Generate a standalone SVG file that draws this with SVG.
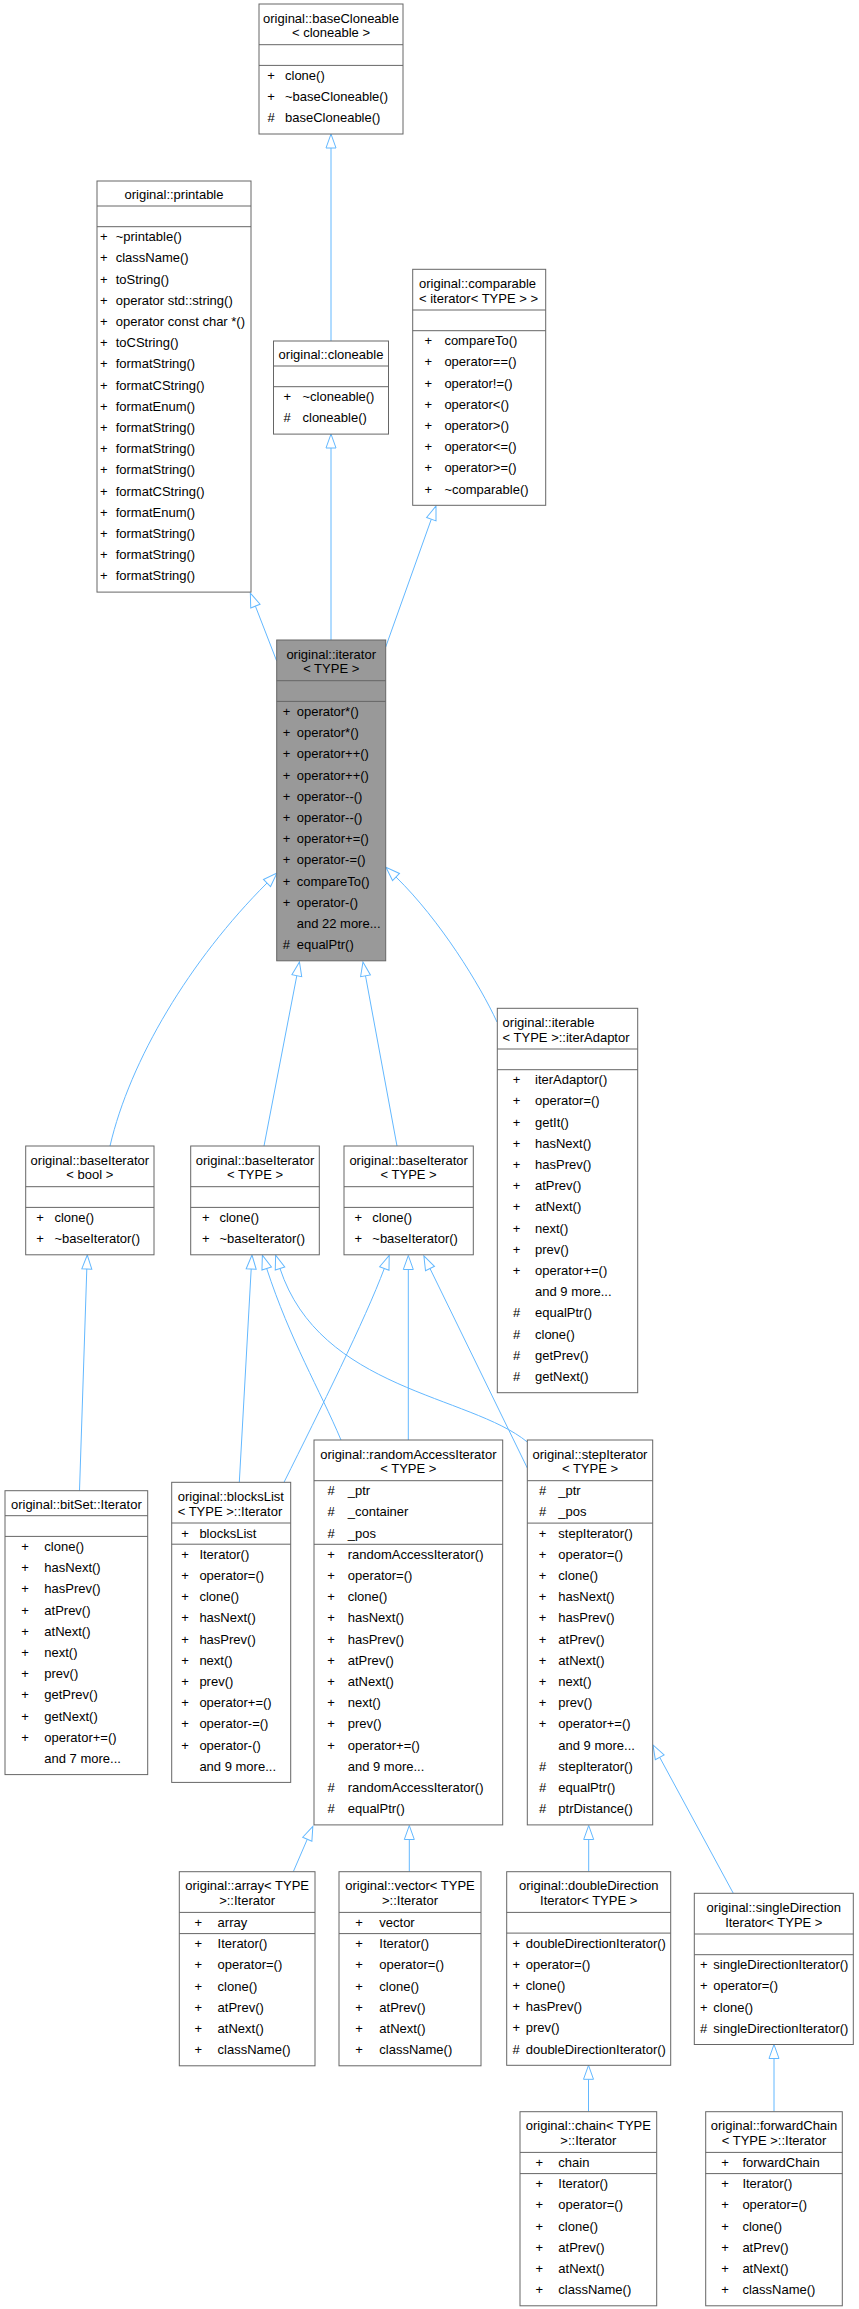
<svg xmlns="http://www.w3.org/2000/svg" width="859" height="2309" viewBox="0 0 859 2309">
<style>
.b{fill:#fff;stroke:#666;stroke-width:1}
.h{fill:#999;stroke:#666;stroke-width:1}
.s{stroke:#666;stroke-width:1}
text{font-family:"Liberation Sans",Arial,sans-serif;font-size:13px;fill:#000}
.c{text-anchor:middle}
.e{fill:none;stroke:#63b8ff;stroke-width:1;marker-end:url(#tri)}
</style>
<defs>
<marker id="tri" markerWidth="16" markerHeight="12" refX="0" refY="0" orient="auto" markerUnits="userSpaceOnUse" overflow="visible"><path d="M0,-5 L14,0 L0,5 Z" fill="#fff" stroke="#63b8ff" stroke-width="1"/></marker>
</defs>
<rect width="859" height="2309" fill="#fff"/>
<g id="edges">
<path class="e" d="M331,341 L331,148"/>
<path class="e" d="M331,640 L331,448"/>
<path class="e" d="M276.7,661 L255.4,606.1"/>
<path class="e" d="M385.7,647 L431.3,519.2"/>
<path class="e" d="M110,1146 C130,1060 190,960 267,883"/>
<path class="e" d="M264,1146 L296.8,975.7"/>
<path class="e" d="M397,1146 L365.5,975.8"/>
<path class="e" d="M497,1022 C480,985 440,920 396,877"/>
<path class="e" d="M79.5,1490.7 L86.8,1269"/>
<path class="e" d="M239.3,1482.3 L251.2,1269"/>
<path class="e" d="M341,1440 C320,1390 290,1340 266.7,1268.5"/>
<path class="e" d="M527.3,1442 C470,1395 320,1390 280,1268.5"/>
<path class="e" d="M284,1482.3 C320,1410 365,1320 384.3,1268.5"/>
<path class="e" d="M408.3,1440 L408.3,1269.5"/>
<path class="e" d="M527.3,1468 L430,1268.5"/>
<path class="e" d="M293.3,1871.7 L307.3,1839.2"/>
<path class="e" d="M409.3,1871.7 L409.3,1839.5"/>
<path class="e" d="M588.7,1871.7 L588.7,1839.5"/>
<path class="e" d="M733.3,1893.3 L659.7,1757.3"/>
<path class="e" d="M588.5,2111.7 L588.5,2079.3"/>
<path class="e" d="M774,2111.7 L774,2058.5"/>
</g>
<g id="baseCloneable">
<rect class="b" x="259" y="4" width="144" height="130"/>
<line class="s" x1="259" y1="44.7" x2="403" y2="44.7"/><line class="s" x1="259" y1="65.4" x2="403" y2="65.4"/>
<text class="c" x="331" y="22.5">original::baseCloneable</text>
<text class="c" x="331" y="37.3">&lt; cloneable &gt;</text>
<text class="c" x="271" y="79.9">+</text><text x="285" y="79.9">clone()</text>
<text class="c" x="271" y="101.1">+</text><text x="285" y="101.1">~baseCloneable()</text>
<text class="c" x="271" y="122.3">#</text><text x="285" y="122.3">baseCloneable()</text>
</g>
<g id="printable">
<rect class="b" x="97" y="181" width="154" height="411.1"/>
<line class="s" x1="97" y1="206" x2="251" y2="206"/><line class="s" x1="97" y1="226.7" x2="251" y2="226.7"/>
<text class="c" x="174" y="199">original::printable</text>
<text x="100" y="241.2">+</text><text x="115.7" y="241.2">~printable()</text>
<text x="100" y="262.4">+</text><text x="115.7" y="262.4">className()</text>
<text x="100" y="283.6">+</text><text x="115.7" y="283.6">toString()</text>
<text x="100" y="304.8">+</text><text x="115.7" y="304.8">operator std::string()</text>
<text x="100" y="326">+</text><text x="115.7" y="326">operator const char *()</text>
<text x="100" y="347.2">+</text><text x="115.7" y="347.2">toCString()</text>
<text x="100" y="368.4">+</text><text x="115.7" y="368.4">formatString()</text>
<text x="100" y="389.6">+</text><text x="115.7" y="389.6">formatCString()</text>
<text x="100" y="410.8">+</text><text x="115.7" y="410.8">formatEnum()</text>
<text x="100" y="432">+</text><text x="115.7" y="432">formatString()</text>
<text x="100" y="453.2">+</text><text x="115.7" y="453.2">formatString()</text>
<text x="100" y="474.4">+</text><text x="115.7" y="474.4">formatString()</text>
<text x="100" y="495.6">+</text><text x="115.7" y="495.6">formatCString()</text>
<text x="100" y="516.8">+</text><text x="115.7" y="516.8">formatEnum()</text>
<text x="100" y="538">+</text><text x="115.7" y="538">formatString()</text>
<text x="100" y="559.2">+</text><text x="115.7" y="559.2">formatString()</text>
<text x="100" y="580.4">+</text><text x="115.7" y="580.4">formatString()</text>
</g>
<g id="cloneable">
<rect class="b" x="273.5" y="341" width="115" height="93.1"/>
<line class="s" x1="273.5" y1="366" x2="388.5" y2="366"/><line class="s" x1="273.5" y1="386.7" x2="388.5" y2="386.7"/>
<text class="c" x="331" y="359">original::cloneable</text>
<text class="c" x="287.2" y="401.2">+</text><text x="302.5" y="401.2">~cloneable()</text>
<text class="c" x="287.2" y="422.4">#</text><text x="302.5" y="422.4">cloneable()</text>
</g>
<g id="comparable">
<rect class="b" x="412.7" y="269.3" width="133" height="236"/>
<line class="s" x1="412.7" y1="310" x2="545.7" y2="310"/><line class="s" x1="412.7" y1="330.7" x2="545.7" y2="330.7"/>
<text x="419" y="287.8">original::comparable</text>
<text x="419" y="302.6">&lt; iterator&lt; TYPE &gt; &gt;</text>
<text class="c" x="428.4" y="345.2">+</text><text x="444.4" y="345.2">compareTo()</text>
<text class="c" x="428.4" y="366.4">+</text><text x="444.4" y="366.4">operator==()</text>
<text class="c" x="428.4" y="387.6">+</text><text x="444.4" y="387.6">operator!=()</text>
<text class="c" x="428.4" y="408.8">+</text><text x="444.4" y="408.8">operator&lt;()</text>
<text class="c" x="428.4" y="430">+</text><text x="444.4" y="430">operator&gt;()</text>
<text class="c" x="428.4" y="451.2">+</text><text x="444.4" y="451.2">operator&lt;=()</text>
<text class="c" x="428.4" y="472.4">+</text><text x="444.4" y="472.4">operator&gt;=()</text>
<text class="c" x="428.4" y="493.6">+</text><text x="444.4" y="493.6">~comparable()</text>
</g>
<g id="iterator">
<rect class="h" x="276.7" y="640" width="109" height="320.8"/>
<line class="s" x1="276.7" y1="680.7" x2="385.7" y2="680.7"/><line class="s" x1="276.7" y1="701.4" x2="385.7" y2="701.4"/>
<text class="c" x="331.2" y="658.5">original::iterator</text>
<text class="c" x="331.2" y="673.3">&lt; TYPE &gt;</text>
<text x="282.7" y="715.9">+</text><text x="296.7" y="715.9">operator*()</text>
<text x="282.7" y="737.1">+</text><text x="296.7" y="737.1">operator*()</text>
<text x="282.7" y="758.3">+</text><text x="296.7" y="758.3">operator++()</text>
<text x="282.7" y="779.5">+</text><text x="296.7" y="779.5">operator++()</text>
<text x="282.7" y="800.7">+</text><text x="296.7" y="800.7">operator--()</text>
<text x="282.7" y="821.9">+</text><text x="296.7" y="821.9">operator--()</text>
<text x="282.7" y="843.1">+</text><text x="296.7" y="843.1">operator+=()</text>
<text x="282.7" y="864.3">+</text><text x="296.7" y="864.3">operator-=()</text>
<text x="282.7" y="885.5">+</text><text x="296.7" y="885.5">compareTo()</text>
<text x="282.7" y="906.7">+</text><text x="296.7" y="906.7">operator-()</text>
<text x="296.7" y="927.9">and 22 more...</text>
<text x="282.7" y="949.1">#</text><text x="296.7" y="949.1">equalPtr()</text>
</g>
<g id="iterAdaptor">
<rect class="b" x="497.3" y="1008.3" width="140.4" height="384.4"/>
<line class="s" x1="497.3" y1="1049" x2="637.7" y2="1049"/><line class="s" x1="497.3" y1="1069.7" x2="637.7" y2="1069.7"/>
<text x="502.6" y="1026.8">original::iterable</text>
<text x="502.6" y="1041.6">&lt; TYPE &gt;::iterAdaptor</text>
<text class="c" x="516.6" y="1084.2">+</text><text x="535" y="1084.2">iterAdaptor()</text>
<text class="c" x="516.6" y="1105.4">+</text><text x="535" y="1105.4">operator=()</text>
<text class="c" x="516.6" y="1126.6">+</text><text x="535" y="1126.6">getIt()</text>
<text class="c" x="516.6" y="1147.8">+</text><text x="535" y="1147.8">hasNext()</text>
<text class="c" x="516.6" y="1169">+</text><text x="535" y="1169">hasPrev()</text>
<text class="c" x="516.6" y="1190.2">+</text><text x="535" y="1190.2">atPrev()</text>
<text class="c" x="516.6" y="1211.4">+</text><text x="535" y="1211.4">atNext()</text>
<text class="c" x="516.6" y="1232.6">+</text><text x="535" y="1232.6">next()</text>
<text class="c" x="516.6" y="1253.8">+</text><text x="535" y="1253.8">prev()</text>
<text class="c" x="516.6" y="1275">+</text><text x="535" y="1275">operator+=()</text>
<text x="535" y="1296.2">and 9 more...</text>
<text class="c" x="516.6" y="1317.4">#</text><text x="535" y="1317.4">equalPtr()</text>
<text class="c" x="516.6" y="1338.6">#</text><text x="535" y="1338.6">clone()</text>
<text class="c" x="516.6" y="1359.8">#</text><text x="535" y="1359.8">getPrev()</text>
<text class="c" x="516.6" y="1381">#</text><text x="535" y="1381">getNext()</text>
</g>
<g id="baseIteratorBool">
<rect class="b" x="25.7" y="1146" width="128.3" height="108.8"/>
<line class="s" x1="25.7" y1="1186.7" x2="154" y2="1186.7"/><line class="s" x1="25.7" y1="1207.4" x2="154" y2="1207.4"/>
<text class="c" x="89.85" y="1164.5">original::baseIterator</text>
<text class="c" x="89.85" y="1179.3">&lt; bool &gt;</text>
<text class="c" x="40" y="1221.9">+</text><text x="54.4" y="1221.9">clone()</text>
<text class="c" x="40" y="1243.1">+</text><text x="54.4" y="1243.1">~baseIterator()</text>
</g>
<g id="baseIteratorType1">
<rect class="b" x="190.7" y="1146" width="128.6" height="108.8"/>
<line class="s" x1="190.7" y1="1186.7" x2="319.3" y2="1186.7"/><line class="s" x1="190.7" y1="1207.4" x2="319.3" y2="1207.4"/>
<text class="c" x="255" y="1164.5">original::baseIterator</text>
<text class="c" x="255" y="1179.3">&lt; TYPE &gt;</text>
<text class="c" x="205.7" y="1221.9">+</text><text x="219.4" y="1221.9">clone()</text>
<text class="c" x="205.7" y="1243.1">+</text><text x="219.4" y="1243.1">~baseIterator()</text>
</g>
<g id="baseIteratorType2">
<rect class="b" x="344" y="1146" width="129.3" height="108.8"/>
<line class="s" x1="344" y1="1186.7" x2="473.3" y2="1186.7"/><line class="s" x1="344" y1="1207.4" x2="473.3" y2="1207.4"/>
<text class="c" x="408.65" y="1164.5">original::baseIterator</text>
<text class="c" x="408.65" y="1179.3">&lt; TYPE &gt;</text>
<text class="c" x="358.3" y="1221.9">+</text><text x="372.3" y="1221.9">clone()</text>
<text class="c" x="358.3" y="1243.1">+</text><text x="372.3" y="1243.1">~baseIterator()</text>
</g>
<g id="bitSetIterator">
<rect class="b" x="5" y="1490.7" width="142.7" height="283.9"/>
<line class="s" x1="5" y1="1515.7" x2="147.7" y2="1515.7"/><line class="s" x1="5" y1="1536.4" x2="147.7" y2="1536.4"/>
<text class="c" x="76.35" y="1508.7">original::bitSet::Iterator</text>
<text class="c" x="25" y="1550.9">+</text><text x="44.3" y="1550.9">clone()</text>
<text class="c" x="25" y="1572.1">+</text><text x="44.3" y="1572.1">hasNext()</text>
<text class="c" x="25" y="1593.3">+</text><text x="44.3" y="1593.3">hasPrev()</text>
<text class="c" x="25" y="1614.5">+</text><text x="44.3" y="1614.5">atPrev()</text>
<text class="c" x="25" y="1635.7">+</text><text x="44.3" y="1635.7">atNext()</text>
<text class="c" x="25" y="1656.9">+</text><text x="44.3" y="1656.9">next()</text>
<text class="c" x="25" y="1678.1">+</text><text x="44.3" y="1678.1">prev()</text>
<text class="c" x="25" y="1699.3">+</text><text x="44.3" y="1699.3">getPrev()</text>
<text class="c" x="25" y="1720.5">+</text><text x="44.3" y="1720.5">getNext()</text>
<text class="c" x="25" y="1741.7">+</text><text x="44.3" y="1741.7">operator+=()</text>
<text x="44.3" y="1762.9">and 7 more...</text>
</g>
<g id="blocksListIterator">
<rect class="b" x="171.7" y="1482.3" width="119" height="300.1"/>
<line class="s" x1="171.7" y1="1523" x2="290.7" y2="1523"/><line class="s" x1="171.7" y1="1544.2" x2="290.7" y2="1544.2"/>
<text x="177.7" y="1500.8">original::blocksList</text>
<text x="177.7" y="1515.6">&lt; TYPE &gt;::Iterator</text>
<text class="c" x="185" y="1537.5">+</text><text x="199.4" y="1537.5">blocksList</text>
<text class="c" x="185" y="1558.7">+</text><text x="199.4" y="1558.7">Iterator()</text>
<text class="c" x="185" y="1579.9">+</text><text x="199.4" y="1579.9">operator=()</text>
<text class="c" x="185" y="1601.1">+</text><text x="199.4" y="1601.1">clone()</text>
<text class="c" x="185" y="1622.3">+</text><text x="199.4" y="1622.3">hasNext()</text>
<text class="c" x="185" y="1643.5">+</text><text x="199.4" y="1643.5">hasPrev()</text>
<text class="c" x="185" y="1664.7">+</text><text x="199.4" y="1664.7">next()</text>
<text class="c" x="185" y="1685.9">+</text><text x="199.4" y="1685.9">prev()</text>
<text class="c" x="185" y="1707.1">+</text><text x="199.4" y="1707.1">operator+=()</text>
<text class="c" x="185" y="1728.3">+</text><text x="199.4" y="1728.3">operator-=()</text>
<text class="c" x="185" y="1749.5">+</text><text x="199.4" y="1749.5">operator-()</text>
<text x="199.4" y="1770.7">and 9 more...</text>
</g>
<g id="randomAccessIterator">
<rect class="b" x="314" y="1440" width="188.7" height="384.9"/>
<line class="s" x1="314" y1="1480.7" x2="502.7" y2="1480.7"/><line class="s" x1="314" y1="1544.3" x2="502.7" y2="1544.3"/>
<text class="c" x="408.35" y="1458.5">original::randomAccessIterator</text>
<text class="c" x="408.35" y="1473.3">&lt; TYPE &gt;</text>
<text class="c" x="331" y="1495.2">#</text><text x="347.7" y="1495.2">_ptr</text>
<text class="c" x="331" y="1516.4">#</text><text x="347.7" y="1516.4">_container</text>
<text class="c" x="331" y="1537.6">#</text><text x="347.7" y="1537.6">_pos</text>
<text class="c" x="331" y="1558.8">+</text><text x="347.7" y="1558.8">randomAccessIterator()</text>
<text class="c" x="331" y="1580">+</text><text x="347.7" y="1580">operator=()</text>
<text class="c" x="331" y="1601.2">+</text><text x="347.7" y="1601.2">clone()</text>
<text class="c" x="331" y="1622.4">+</text><text x="347.7" y="1622.4">hasNext()</text>
<text class="c" x="331" y="1643.6">+</text><text x="347.7" y="1643.6">hasPrev()</text>
<text class="c" x="331" y="1664.8">+</text><text x="347.7" y="1664.8">atPrev()</text>
<text class="c" x="331" y="1686">+</text><text x="347.7" y="1686">atNext()</text>
<text class="c" x="331" y="1707.2">+</text><text x="347.7" y="1707.2">next()</text>
<text class="c" x="331" y="1728.4">+</text><text x="347.7" y="1728.4">prev()</text>
<text class="c" x="331" y="1749.6">+</text><text x="347.7" y="1749.6">operator+=()</text>
<text x="347.7" y="1770.8">and 9 more...</text>
<text class="c" x="331" y="1792">#</text><text x="347.7" y="1792">randomAccessIterator()</text>
<text class="c" x="331" y="1813.2">#</text><text x="347.7" y="1813.2">equalPtr()</text>
</g>
<g id="stepIterator">
<rect class="b" x="527.3" y="1440" width="125.4" height="384.9"/>
<line class="s" x1="527.3" y1="1480.7" x2="652.7" y2="1480.7"/><line class="s" x1="527.3" y1="1523.1" x2="652.7" y2="1523.1"/>
<text class="c" x="590" y="1458.5">original::stepIterator</text>
<text class="c" x="590" y="1473.3">&lt; TYPE &gt;</text>
<text class="c" x="542.6" y="1495.2">#</text><text x="558.3" y="1495.2">_ptr</text>
<text class="c" x="542.6" y="1516.4">#</text><text x="558.3" y="1516.4">_pos</text>
<text class="c" x="542.6" y="1537.6">+</text><text x="558.3" y="1537.6">stepIterator()</text>
<text class="c" x="542.6" y="1558.8">+</text><text x="558.3" y="1558.8">operator=()</text>
<text class="c" x="542.6" y="1580">+</text><text x="558.3" y="1580">clone()</text>
<text class="c" x="542.6" y="1601.2">+</text><text x="558.3" y="1601.2">hasNext()</text>
<text class="c" x="542.6" y="1622.4">+</text><text x="558.3" y="1622.4">hasPrev()</text>
<text class="c" x="542.6" y="1643.6">+</text><text x="558.3" y="1643.6">atPrev()</text>
<text class="c" x="542.6" y="1664.8">+</text><text x="558.3" y="1664.8">atNext()</text>
<text class="c" x="542.6" y="1686">+</text><text x="558.3" y="1686">next()</text>
<text class="c" x="542.6" y="1707.2">+</text><text x="558.3" y="1707.2">prev()</text>
<text class="c" x="542.6" y="1728.4">+</text><text x="558.3" y="1728.4">operator+=()</text>
<text x="558.3" y="1749.6">and 9 more...</text>
<text class="c" x="542.6" y="1770.8">#</text><text x="558.3" y="1770.8">stepIterator()</text>
<text class="c" x="542.6" y="1792">#</text><text x="558.3" y="1792">equalPtr()</text>
<text class="c" x="542.6" y="1813.2">#</text><text x="558.3" y="1813.2">ptrDistance()</text>
</g>
<g id="arrayIterator">
<rect class="b" x="179.3" y="1871.7" width="135.7" height="194.1"/>
<line class="s" x1="179.3" y1="1912.4" x2="315" y2="1912.4"/><line class="s" x1="179.3" y1="1933.6" x2="315" y2="1933.6"/>
<text class="c" x="247.15" y="1890.2">original::array&lt; TYPE</text>
<text class="c" x="247.15" y="1905">&gt;::Iterator</text>
<text class="c" x="198.3" y="1926.9">+</text><text x="217.6" y="1926.9">array</text>
<text class="c" x="198.3" y="1948.1">+</text><text x="217.6" y="1948.1">Iterator()</text>
<text class="c" x="198.3" y="1969.3">+</text><text x="217.6" y="1969.3">operator=()</text>
<text class="c" x="198.3" y="1990.5">+</text><text x="217.6" y="1990.5">clone()</text>
<text class="c" x="198.3" y="2011.7">+</text><text x="217.6" y="2011.7">atPrev()</text>
<text class="c" x="198.3" y="2032.9">+</text><text x="217.6" y="2032.9">atNext()</text>
<text class="c" x="198.3" y="2054.1">+</text><text x="217.6" y="2054.1">className()</text>
</g>
<g id="vectorIterator">
<rect class="b" x="339" y="1871.7" width="142" height="194.1"/>
<line class="s" x1="339" y1="1912.4" x2="481" y2="1912.4"/><line class="s" x1="339" y1="1933.6" x2="481" y2="1933.6"/>
<text class="c" x="410" y="1890.2">original::vector&lt; TYPE</text>
<text class="c" x="410" y="1905">&gt;::Iterator</text>
<text class="c" x="359" y="1926.9">+</text><text x="379.3" y="1926.9">vector</text>
<text class="c" x="359" y="1948.1">+</text><text x="379.3" y="1948.1">Iterator()</text>
<text class="c" x="359" y="1969.3">+</text><text x="379.3" y="1969.3">operator=()</text>
<text class="c" x="359" y="1990.5">+</text><text x="379.3" y="1990.5">clone()</text>
<text class="c" x="359" y="2011.7">+</text><text x="379.3" y="2011.7">atPrev()</text>
<text class="c" x="359" y="2032.9">+</text><text x="379.3" y="2032.9">atNext()</text>
<text class="c" x="359" y="2054.1">+</text><text x="379.3" y="2054.1">className()</text>
</g>
<g id="doubleDirectionIterator">
<rect class="b" x="506.7" y="1871.7" width="164" height="193.6"/>
<line class="s" x1="506.7" y1="1912.4" x2="670.7" y2="1912.4"/><line class="s" x1="506.7" y1="1933.1" x2="670.7" y2="1933.1"/>
<text class="c" x="588.7" y="1890.2">original::doubleDirection</text>
<text class="c" x="588.7" y="1905">Iterator&lt; TYPE &gt;</text>
<text x="512.4" y="1947.6">+</text><text x="525.7" y="1947.6">doubleDirectionIterator()</text>
<text x="512.4" y="1968.8">+</text><text x="525.7" y="1968.8">operator=()</text>
<text x="512.4" y="1990">+</text><text x="525.7" y="1990">clone()</text>
<text x="512.4" y="2011.2">+</text><text x="525.7" y="2011.2">hasPrev()</text>
<text x="512.4" y="2032.4">+</text><text x="525.7" y="2032.4">prev()</text>
<text x="512.4" y="2053.6">#</text><text x="525.7" y="2053.6">doubleDirectionIterator()</text>
</g>
<g id="singleDirectionIterator">
<rect class="b" x="694.3" y="1893.3" width="159" height="151.2"/>
<line class="s" x1="694.3" y1="1934" x2="853.3" y2="1934"/><line class="s" x1="694.3" y1="1954.7" x2="853.3" y2="1954.7"/>
<text class="c" x="773.8" y="1911.8">original::singleDirection</text>
<text class="c" x="773.8" y="1926.6">Iterator&lt; TYPE &gt;</text>
<text x="700" y="1969.2">+</text><text x="713.3" y="1969.2">singleDirectionIterator()</text>
<text x="700" y="1990.4">+</text><text x="713.3" y="1990.4">operator=()</text>
<text x="700" y="2011.6">+</text><text x="713.3" y="2011.6">clone()</text>
<text x="700" y="2032.8">#</text><text x="713.3" y="2032.8">singleDirectionIterator()</text>
</g>
<g id="chainIterator">
<rect class="b" x="520" y="2111.7" width="136.7" height="194.1"/>
<line class="s" x1="520" y1="2152.4" x2="656.7" y2="2152.4"/><line class="s" x1="520" y1="2173.6" x2="656.7" y2="2173.6"/>
<text class="c" x="588.35" y="2130.2">original::chain&lt; TYPE</text>
<text class="c" x="588.35" y="2145">&gt;::Iterator</text>
<text class="c" x="539.3" y="2166.9">+</text><text x="558.3" y="2166.9">chain</text>
<text class="c" x="539.3" y="2188.1">+</text><text x="558.3" y="2188.1">Iterator()</text>
<text class="c" x="539.3" y="2209.3">+</text><text x="558.3" y="2209.3">operator=()</text>
<text class="c" x="539.3" y="2230.5">+</text><text x="558.3" y="2230.5">clone()</text>
<text class="c" x="539.3" y="2251.7">+</text><text x="558.3" y="2251.7">atPrev()</text>
<text class="c" x="539.3" y="2272.9">+</text><text x="558.3" y="2272.9">atNext()</text>
<text class="c" x="539.3" y="2294.1">+</text><text x="558.3" y="2294.1">className()</text>
</g>
<g id="forwardChainIterator">
<rect class="b" x="705.7" y="2111.7" width="136.6" height="194.1"/>
<line class="s" x1="705.7" y1="2152.4" x2="842.3" y2="2152.4"/><line class="s" x1="705.7" y1="2173.6" x2="842.3" y2="2173.6"/>
<text class="c" x="774" y="2130.2">original::forwardChain</text>
<text class="c" x="774" y="2145">&lt; TYPE &gt;::Iterator</text>
<text class="c" x="725" y="2166.9">+</text><text x="742.4" y="2166.9">forwardChain</text>
<text class="c" x="725" y="2188.1">+</text><text x="742.4" y="2188.1">Iterator()</text>
<text class="c" x="725" y="2209.3">+</text><text x="742.4" y="2209.3">operator=()</text>
<text class="c" x="725" y="2230.5">+</text><text x="742.4" y="2230.5">clone()</text>
<text class="c" x="725" y="2251.7">+</text><text x="742.4" y="2251.7">atPrev()</text>
<text class="c" x="725" y="2272.9">+</text><text x="742.4" y="2272.9">atNext()</text>
<text class="c" x="725" y="2294.1">+</text><text x="742.4" y="2294.1">className()</text>
</g>
</svg>
